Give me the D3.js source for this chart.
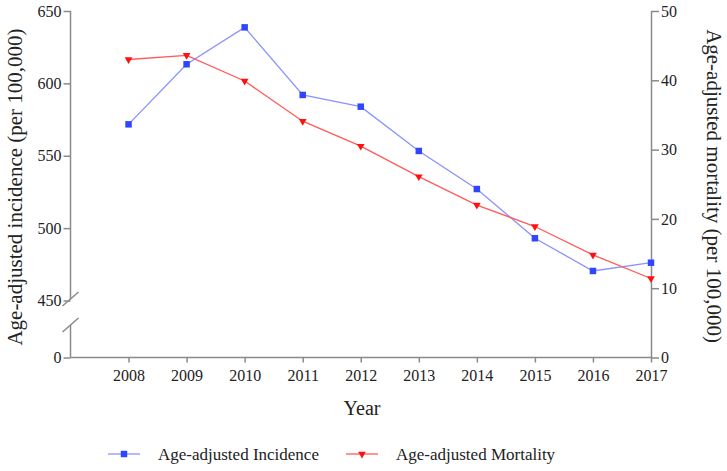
<!DOCTYPE html>
<html><head><meta charset="utf-8">
<script src="https://cdn.jsdelivr.net/npm/d3@7"></script>
<style>
html,body{margin:0;padding:0;background:#fff;}
svg{display:block;}
text{font-family:"Liberation Serif","DejaVu Serif",serif;fill:#222;}
</style></head>
<body>
<svg id="c" width="727" height="471"></svg>
<script>
const years = [2008,2009,2010,2011,2012,2013,2014,2015,2016,2017];
const incidence = [571.7,613.2,638.7,592.0,583.9,553.3,527.0,493.0,470.4,476.1];
const mortality = [43.0,43.6,39.9,34.1,30.5,26.1,22.0,18.9,14.8,11.4];
const leftTicks = [0,450,500,550,600,650];
const rightTicks = [0,10,20,30,40,50];
const seriesNames = ["Age-adjusted Incidence","Age-adjusted Mortality"];
const leftTitle = "Age-adjusted incidence (per 100,000)";
const rightTitle = "Age-adjusted mortality (per 100,000)";
const xTitle = "Year";

const svg = d3.select("#c");
const axisColor = "#8a8a8a";
const blueLine = "#8a92ff", blueMark = "#2f45ff";
const redLine = "#ff5a5a", redMark = "#ff1010";

const x = d3.scaleLinear().domain([2007,2017]).range([70.5,651]);
const yL = d3.scaleLinear().domain([0,450,650]).range([357.5,300.5,11]);
const yR = d3.scaleLinear().domain([0,50]).range([357.5,11]);

// X axis
const gx = svg.append("g").attr("transform","translate(0,357.5)")
  .call(d3.axisBottom(x).tickValues(years).tickFormat(d3.format("d")).tickSize(5).tickPadding(7).tickSizeOuter(0));
gx.select(".domain").remove();
gx.append("line").attr("x1",x(2007)).attr("x2",x(2017)).attr("stroke",axisColor).attr("stroke-width",1.5);
gx.selectAll(".tick line").attr("stroke",axisColor).attr("stroke-width",1.5);
gx.selectAll(".tick text").attr("font-size",16).attr("fill","#222").attr("font-family","Liberation Serif");

// Left axis
const gl = svg.append("g").attr("transform","translate(70.5,0)")
  .call(d3.axisLeft(yL).tickValues(leftTicks).tickSize(7).tickPadding(2).tickSizeOuter(0));
gl.select(".domain").remove();
gl.selectAll(".tick line").attr("stroke",axisColor).attr("stroke-width",1.5);
gl.selectAll(".tick text").attr("font-size",16).attr("fill","#222").attr("font-family","Liberation Serif");
// broken axis line
gl.append("line").attr("x1",0).attr("x2",0).attr("y1",yL(650)).attr("y2",yL(450)-1).attr("stroke",axisColor).attr("stroke-width",1.5);
gl.append("line").attr("x1",0).attr("x2",0).attr("y1",325).attr("y2",yL(0)).attr("stroke",axisColor).attr("stroke-width",1.5);
gl.append("line").attr("x1",-8).attr("x2",8).attr("y1",306).attr("y2",292).attr("stroke",axisColor).attr("stroke-width",1.5);
gl.append("line").attr("x1",-8).attr("x2",8).attr("y1",332).attr("y2",318).attr("stroke",axisColor).attr("stroke-width",1.5);

// Right axis
const gr = svg.append("g").attr("transform","translate(651,0)")
  .call(d3.axisRight(yR).tickValues(rightTicks).tickSize(8).tickPadding(2).tickSizeOuter(0));
gr.select(".domain").attr("stroke",axisColor).attr("stroke-width",1.5);
gr.selectAll(".tick line").attr("stroke",axisColor).attr("stroke-width",1.5);
gr.selectAll(".tick text").attr("font-size",16).attr("fill","#222").attr("font-family","Liberation Serif");

// Titles
svg.append("text").attr("transform","translate(22,187) rotate(-90)").attr("text-anchor","middle")
  .attr("font-size",21).text(leftTitle);
svg.append("text").attr("transform","translate(707,186) rotate(90)").attr("text-anchor","middle")
  .attr("font-size",21).text(rightTitle);
svg.append("text").attr("x",362).attr("y",415).attr("text-anchor","middle")
  .attr("font-size",20).text(xTitle);

// Lines
const lineL = d3.line().x((d,i)=>x(years[i])).y(d=>yL(d));
const lineR = d3.line().x((d,i)=>x(years[i])).y(d=>yR(d));
svg.append("path").datum(incidence).attr("d",lineL).attr("fill","none").attr("stroke",blueLine).attr("stroke-width",1.3);
svg.append("path").datum(mortality).attr("d",lineR).attr("fill","none").attr("stroke",redLine).attr("stroke-width",1.3);

const sq = d3.symbol().type(d3.symbolSquare).size(42);
const tri = d3.symbol().type(d3.symbolTriangle).size(26);
svg.selectAll(".mi").data(incidence).join("path").attr("class","mi")
  .attr("transform",(d,i)=>`translate(${x(years[i])},${yL(d)})`).attr("d",sq).attr("fill",blueMark);
svg.selectAll(".mm").data(mortality).join("path").attr("class","mm")
  .attr("transform",(d,i)=>`translate(${x(years[i])},${yR(d)}) rotate(180)`).attr("d",tri).attr("fill",redMark);

// Legend
const leg = [{name:seriesNames[0],lc:blueLine,mc:blueMark,sym:sq,rot:0,x0:108},
             {name:seriesNames[1],lc:redLine,mc:redMark,sym:tri,rot:180,x0:346}];
const ly = 454;
leg.forEach(l=>{
  svg.append("line").attr("x1",l.x0).attr("x2",l.x0+32).attr("y1",ly).attr("y2",ly).attr("stroke",l.lc).attr("stroke-width",1.3);
  svg.append("path").attr("d",l.sym).attr("fill",l.mc).attr("transform",`translate(${l.x0+16},${ly}) rotate(${l.rot})`);
  svg.append("text").attr("x",l.x0+50).attr("y",ly+5.5).attr("font-size",17).text(l.name);
});
</script>
</body></html>
